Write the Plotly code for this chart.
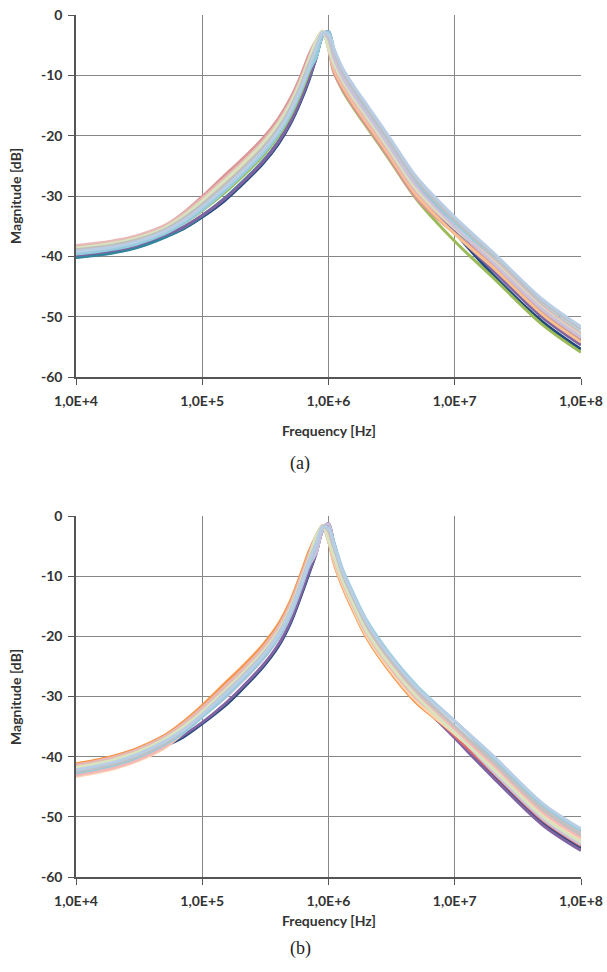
import plotly.graph_objects as go

# ---------------- data ----------------
FREQ = [1e4, 1.5e4, 2e4, 3e4, 5e4, 7e4, 1e5, 1.5e5, 2e5, 3e5, 4e5, 5e5, 6e5, 7e5,
        8e5, 9e5, 1e6, 1.1e6, 1.3e6, 1.6e6, 2e6, 3e6, 5e6, 1e7, 2e7, 5e7, 1e8]

X_TICKS = [1e4, 1e5, 1e6, 1e7, 1e8]
X_TICK_LABELS = ["1,0E+4", "1,0E+5", "1,0E+6", "1,0E+7", "1,0E+8"]
Y_TICKS = [0, -10, -20, -30, -40, -50, -60]
Y_TICK_LABELS = ["0", "-10", "-20", "-30", "-40", "-50", "-60"]

# (a) magnitude curves [dB]
A_NAVY = [-40.1, -39.7, -39.3, -38.5, -36.8, -35.5, -33.5, -30.8, -28.4, -24.7, -21.4, -18.0, -14.4, -10.8,
          -7.0, -3.4, -2.8, -6.0, -10.2, -13.2, -16.1, -21.4, -28.2, -36.0, -43.0, -50.9, -55.4]
A_TEAL = [-40.2, -39.8, -39.4, -38.6, -36.9, -35.4, -33.3, -30.4, -28.0, -24.3, -21.0, -17.6, -14.0, -10.4,
          -7.0, -3.4, -2.8, -5.7, -9.9, -12.9, -15.8, -21.1, -27.9, -35.2, -41.6, -49.5, -54.0]
A_PURPLE = [-39.8, -39.4, -39.0, -38.2, -36.5, -35.2, -33.2, -30.5, -28.1, -24.4, -21.1, -17.7, -14.1, -10.5,
            -7.0, -3.4, -2.8, -6.9, -11.1, -14.1, -17.0, -22.3, -29.1, -36.1, -42.3, -50.2, -54.7]
A_GREEN = [-39.4, -39.0, -38.6, -37.8, -36.1, -34.6, -32.4, -29.5, -27.1, -23.4, -20.1, -16.7, -13.1, -9.5,
           -5.9, -2.9, -5.1, -9.2, -12.6, -15.6, -18.5, -23.8, -30.6, -37.5, -43.5, -51.4, -55.9]
A_PINK = [-38.3, -37.9, -37.5, -36.7, -35.0, -32.9, -30.1, -26.6, -24.2, -20.5, -17.2, -13.8, -10.2, -6.6,
          -4.2, -2.7, -5.5, -9.5, -12.4, -15.4, -18.3, -23.6, -30.4, -36.2, -41.2, -49.1, -53.6]
A_ORANGE = [-38.7, -38.3, -37.9, -37.1, -35.4, -33.5, -31.0, -27.7, -25.3, -21.6, -18.3, -14.9, -11.3, -7.7,
            -4.2, -2.7, -5.5, -9.0, -11.9, -14.9, -17.8, -23.1, -29.9, -36.3, -41.8, -49.7, -54.2]
A_AQUA = [-39.6, -39.2, -38.8, -38.0, -36.3, -34.6, -32.3, -29.2, -26.8, -23.1, -19.8, -16.4, -12.8, -9.2,
          -7.0, -3.4, -2.8, -5.5, -9.7, -12.7, -15.6, -20.9, -27.7, -34.4, -40.3, -48.2, -52.7]
A_ROSE = [-38.2, -37.8, -37.4, -36.6, -34.9, -33.0, -30.4, -27.1, -24.7, -21.0, -17.7, -14.3, -10.7, -7.1,
          -4.2, -2.7, -5.5, -8.5, -11.4, -14.4, -17.3, -22.6, -29.4, -35.4, -40.5, -48.4, -52.9]
A_LGREEN = [-38.6, -38.2, -37.8, -37.0, -35.3, -33.4, -30.8, -27.5, -25.1, -21.4, -18.1, -14.7, -11.1, -7.5,
            -4.2, -2.7, -5.5, -8.0, -10.9, -13.9, -16.8, -22.1, -28.9, -35.3, -40.8, -48.7, -53.2]
A_LPURPLE = [-39.1, -38.7, -38.3, -37.5, -35.8, -34.0, -31.6, -28.4, -26.0, -22.3, -19.0, -15.6, -12.0, -8.4,
             -5.4, -2.9, -4.0, -7.0, -10.4, -13.4, -16.3, -21.6, -28.4, -35.1, -41.0, -48.9, -53.4]
A_GRAY = [-38.9, -38.5, -38.1, -37.3, -35.6, -33.8, -31.4, -28.2, -25.8, -22.1, -18.8, -15.4, -11.8, -8.2,
          -5.3, -2.9, -3.5, -6.0, -9.4, -12.4, -15.3, -20.6, -27.4, -34.0, -39.7, -47.6, -52.1]
A_LBLUE = [-39.2, -38.8, -38.4, -37.6, -35.9, -34.2, -31.8, -28.7, -26.3, -22.6, -19.3, -15.9, -12.3, -8.7,
           -5.5, -2.9, -3.2, -5.5, -8.9, -11.9, -14.8, -20.1, -26.9, -33.5, -39.3, -47.2, -51.7]

# (b) magnitude curves [dB]
B_NAVY = [-43.0, -42.3, -41.7, -40.5, -38.3, -36.8, -34.5, -31.6, -29.1, -25.2, -21.7, -17.8, -13.5, -9.6,
          -6.1, -2.3, -1.3, -4.4, -9.4, -13.9, -18.3, -24.0, -29.9, -36.4, -43.0, -51.0, -55.2]
B_PURPLE = [-42.8, -42.1, -41.5, -40.3, -38.1, -36.5, -34.3, -31.3, -28.8, -24.9, -21.4, -17.5, -13.2, -9.3,
            -6.1, -2.3, -1.3, -5.0, -10.0, -14.5, -18.8, -24.5, -30.4, -36.9, -43.4, -51.4, -55.6]
B_RED = [-41.3, -40.6, -40.0, -38.8, -36.6, -34.6, -31.9, -28.5, -26.0, -22.1, -18.6, -14.7, -10.4, -6.5,
         -3.3, -1.6, -4.1, -7.1, -11.3, -15.5, -19.6, -25.0, -30.5, -36.5, -42.6, -50.6, -54.8]
B_ORANGE = [-41.2, -40.5, -39.9, -38.7, -36.5, -34.3, -31.5, -27.9, -25.4, -21.5, -18.0, -14.1, -9.8, -5.9,
            -3.3, -1.6, -4.1, -7.7, -11.9, -16.1, -20.2, -25.6, -31.1, -36.1, -41.1, -49.1, -53.3]
B_PEACH = [-43.3, -42.6, -42.0, -40.8, -38.6, -36.1, -32.9, -29.0, -26.5, -22.6, -19.1, -15.2, -10.9, -7.0,
           -3.3, -1.6, -4.1, -7.4, -11.6, -15.8, -19.9, -25.3, -30.8, -36.2, -41.6, -49.6, -53.8]
B_ROSE = [-41.4, -40.7, -40.1, -38.9, -36.7, -34.6, -31.9, -28.4, -25.9, -22.0, -18.5, -14.6, -10.3, -6.4,
          -3.3, -1.6, -4.1, -6.9, -11.1, -15.3, -19.4, -24.8, -30.3, -35.3, -40.4, -48.4, -52.6]
B_LPURPLE = [-42.0, -41.3, -40.7, -39.5, -37.3, -35.7, -33.3, -30.3, -27.8, -23.9, -20.4, -16.5, -12.2, -8.3,
             -6.1, -2.3, -1.3, -4.5, -10.0, -14.2, -18.3, -23.7, -29.2, -35.8, -42.4, -50.4, -54.6]
B_PINK = [-43.1, -42.4, -41.8, -40.6, -38.4, -36.0, -33.0, -29.2, -26.7, -22.8, -19.3, -15.4, -11.1, -7.2,
          -4.4, -1.8, -2.8, -5.9, -10.6, -14.8, -18.9, -24.3, -29.8, -35.5, -41.2, -49.2, -53.4]
B_LGREEN = [-41.8, -41.1, -40.5, -39.3, -37.1, -35.1, -32.5, -29.1, -26.6, -22.7, -19.2, -15.3, -11.0, -7.1,
            -3.3, -1.6, -4.1, -6.6, -10.8, -15.0, -19.1, -24.5, -30.0, -36.0, -42.0, -50.0, -54.2]
B_AQUA = [-42.7, -42.0, -41.4, -40.2, -38.0, -36.1, -33.4, -30.1, -27.6, -23.7, -20.2, -16.3, -12.0, -8.1,
          -4.8, -1.8, -2.0, -4.3, -9.0, -13.2, -17.3, -22.7, -28.2, -34.1, -40.1, -48.1, -52.3]
B_GRAY = [-42.5, -41.8, -41.2, -40.0, -37.8, -35.7, -33.0, -29.5, -27.0, -23.1, -19.6, -15.7, -11.4, -7.5,
          -4.5, -1.8, -2.4, -5.1, -9.8, -14.0, -18.1, -23.5, -29.0, -34.9, -40.8, -48.8, -53.0]
B_LBLUE = [-42.2, -41.5, -40.9, -39.7, -37.5, -35.6, -33.0, -29.7, -27.2, -23.3, -19.8, -15.9, -11.6, -7.7,
           -4.6, -1.8, -2.1, -4.6, -9.3, -13.5, -17.6, -23.0, -28.5, -34.1, -39.8, -47.8, -52.0]

SERIES_A = [(A_NAVY, "#1F497D"), (A_TEAL, "#31859C"), (A_PURPLE, "#8064A2"), (A_GREEN, "#9BBB59"),
            (A_PINK, "#D99694"), (A_ORANGE, "#FAC090"), (A_AQUA, "#93CDDD"), (A_ROSE, "#E6B9B8"),
            (A_LGREEN, "#D7E4BD"), (A_LPURPLE, "#CCC1DA"), (A_GRAY, "#BFBFBF"), (A_LBLUE, "#B9CDE5")]
SERIES_B = [(B_NAVY, "#1F497D"), (B_PURPLE, "#8064A2"), (B_RED, "#E46C6A"), (B_ORANGE, "#F79646"),
            (B_PEACH, "#FCD5B5"), (B_ROSE, "#E6B9B8"), (B_LPURPLE, "#CCC1DA"), (B_PINK, "#F2B8B7"),
            (B_LGREEN, "#D7E4BD"), (B_AQUA, "#93CDDD"), (B_GRAY, "#C0C0C0"), (B_LBLUE, "#B9CDE5")]

# ---------------- figure ----------------
W, H = 607, 972
L, R, T, B = 76, 26, 15, 95
plot_h = H - T - B  # 862


def py(px):  # pixel row -> paper y
    return (H - B - px) / plot_h


def px_x(px):
    return (px - L) / (W - L - R)


fig = go.Figure()
for vals, col in SERIES_A:
    fig.add_trace(go.Scatter(x=FREQ, y=vals, mode="lines", xaxis="x", yaxis="y",
                             line=dict(color=col, width=3, shape="spline", smoothing=0.9),
                             hoverinfo="skip", showlegend=False))
for vals, col in SERIES_B:
    fig.add_trace(go.Scatter(x=FREQ, y=vals, mode="lines", xaxis="x2", yaxis="y2",
                             line=dict(color=col, width=3, shape="spline", smoothing=0.9),
                             hoverinfo="skip", showlegend=False))

tickfont = dict(family="Lato, Open Sans, sans-serif", size=14, color="#333333", weight="bold")
grid = "#878787"
axline = "#555555"

xax = dict(type="log", range=[4, 8], tickvals=X_TICKS, ticktext=X_TICK_LABELS,
           showgrid=True, gridcolor=grid, gridwidth=1, showline=True, linecolor=axline, linewidth=1.5,
           ticks="outside", ticklen=6, tickcolor=axline, tickfont=tickfont, zeroline=False,
           ticklabelstandoff=4, automargin=False)
yax = dict(range=[-60, 0], tickvals=Y_TICKS, ticktext=Y_TICK_LABELS,
           showgrid=True, gridcolor=grid, gridwidth=1, showline=True, linecolor=axline, linewidth=1.5,
           ticks="outside", ticklen=6, tickcolor=axline, tickfont=tickfont, zeroline=False,
           ticklabelstandoff=3, automargin=False)

fig.update_layout(
    width=W, height=H,
    margin=dict(l=L, r=R, t=T, b=B, autoexpand=False),
    paper_bgcolor="white", plot_bgcolor="white",
    showlegend=False,
    xaxis=dict(xax, domain=[0, 1], anchor="y"),
    yaxis=dict(yax, domain=[py(377), 1.0], anchor="x"),
    xaxis2=dict(xax, domain=[0, 1], anchor="y2"),
    yaxis2=dict(yax, domain=[0.0, py(516)], anchor="x2"),
)

title_font = dict(family="Lato, Open Sans, sans-serif", size=14, color="#333333", weight="bold")
cap_font = dict(family="Liberation Serif, Times New Roman, serif", size=18, color="#222222")
ann = [
    dict(text="Frequency [Hz]", x=0.5, y=py(430), font=title_font),
    dict(text="Frequency [Hz]", x=0.5, y=py(920), font=title_font),
    dict(text="Magnitude [dB]", x=px_x(15), y=py(196), font=title_font, textangle=-90),
    dict(text="Magnitude [dB]", x=px_x(15), y=py(697), font=title_font, textangle=-90),
    dict(text="(a)", x=px_x(300), y=py(463), font=cap_font),
    dict(text="(b)", x=px_x(300), y=py(948), font=cap_font),
]
for a in ann:
    fig.add_annotation(xref="paper", yref="paper", showarrow=False,
                       xanchor="center", yanchor="middle", **a)

fig.write_html("out.html", config={"displayModeBar": False},
               post_script="document.body.style.margin='0';document.body.style.overflow='hidden';")
